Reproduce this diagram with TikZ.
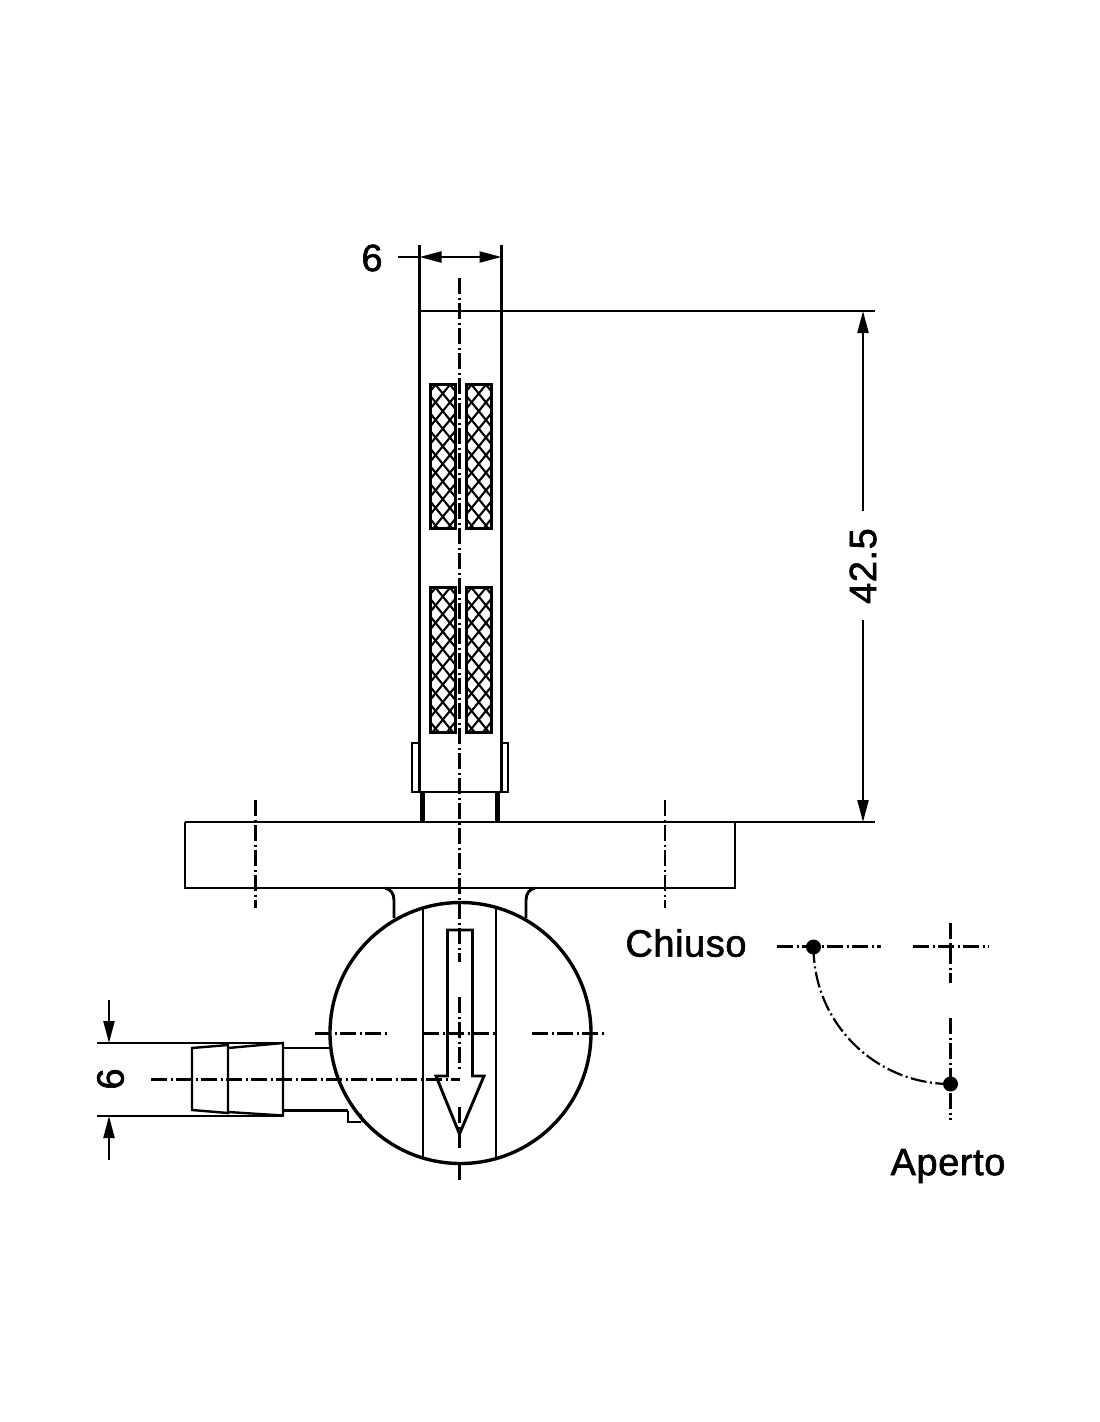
\documentclass[tikz,border=0pt]{standalone}
\usepackage{fontspec}
\setmainfont[FakeBold=1.6,LetterSpace=1.5]{Liberation Sans}
\usetikzlibrary{arrows.meta}
\tikzset{
  part/.style={line width=2.9pt,black},
  thin part/.style={line width=2.4pt,black},
  center/.style={line width=2.2pt,black,dash pattern=on 16pt off 3.5pt on 2pt off 3.5pt},
  dim/.style={line width=2.2pt,black},
  dimarrow/.style={dim,-{Stealth[length=22pt,width=11pt,inset=0pt]}},
  dimboth/.style={dim,{Stealth[length=22pt,width=11pt,inset=0pt]}-{Stealth[length=22pt,width=11pt,inset=0pt]}},
  lab/.style={font=\fontsize{38}{38}\selectfont,inner sep=0pt,text=black},
  hatchbox/.style={line width=3pt,black},
  hatchline/.style={line width=2.1pt,black},
  pin/.style={circle,fill=black,inner sep=0pt,minimum size=15pt}
}
\newcommand{\meshbox}[4]{%
  \begin{scope}
    \clip (#1,#2) rectangle (#3,#4);
    \foreach \k in {-3,...,12}{
      \draw[hatchline] (#1,#2-6+17.6*\k) -- (#3,#2+24+17.6*\k);
      \draw[hatchline] (#1,#2+24+17.6*\k) -- (#3,#2-6+17.6*\k);
    }
  \end{scope}
  \draw[hatchbox] (#1,#2) rectangle (#3,#4);
}
\begin{document}
\begin{tikzpicture}[x=1pt,y=-1pt]
\useasboundingbox (0,0) rectangle (1100,1422);
\fill[white] (0,0) rectangle (1100,1422);

% stem
\draw[part] (419.5,245) -- (419.5,743);
\draw[part] (501.5,245) -- (501.5,743);
\draw[part] (419.5,743) -- (419.5,792);
\draw[part] (501.5,743) -- (501.5,792);
\draw[thin part] (419.5,311) -- (875,311);

% mesh windows
\meshbox{430.5}{384.5}{455}{528.5}
\meshbox{466.5}{384.5}{491}{528.5}
\meshbox{430.5}{587.5}{455}{732.5}
\meshbox{466.5}{587.5}{491}{732.5}

% collar
\draw[thin part] (419.5,743) -- (412,743) -- (412,792) -- (508,792) -- (508,743) -- (501.5,743);
\draw[line width=4.5pt] (422.5,792) -- (422.5,822);
\draw[line width=4.5pt] (497.5,792) -- (497.5,822);

% flange
\draw[part] (185,822) -- (875,822);
\draw[part] (185,822) -- (185,888) -- (735,888) -- (735,822);

% neck fillets
\draw[part] (394,918) -- (394,900) .. controls (394,893) and (390,889) .. (385,888);
\draw[part] (526,918) -- (526,900) .. controls (526,893) and (530,889) .. (535,888);

% body
\draw[line width=3.4pt] (460.5,1033) circle (130.5);
\draw[thin part] (423,906) -- (423,1158);
\draw[thin part] (496,906) -- (496,1158);

% arrow
\draw[part,fill=white] (447.5,1076) -- (447.5,930) -- (472.5,930) -- (472.5,1076) -- (484,1076) -- (459.5,1134) -- (436,1076) -- cycle;

% centre lines
\draw[center] (459.5,278) -- (459.5,962);
\draw[center] (459.5,997) -- (459.5,1071);
\draw[center] (459.5,1107) -- (459.5,1149);
\draw[center] (459.5,1165) -- (459.5,1180);
\draw[center] (315,1033.5) -- (389,1033.5);
\draw[center] (423,1033.5) -- (496,1033.5);
\draw[center] (532,1033.5) -- (606,1033.5);
\draw[center] (151,1079.5) -- (460,1079.5);
\draw[center] (255.5,800) -- (255.5,908);
\draw[center] (665,800) -- (665,908);

% side fitting
\draw[thin part] (192,1048) -- (228,1045) -- (228,1113) -- (192,1110) -- cycle;
\draw[thin part] (228,1048) -- (283,1043) -- (283,1115.5) -- (228,1112);
\draw[thin part] (283,1048) -- (331,1048);
\draw[thin part] (283,1110.5) -- (348,1110.5);
\draw[thin part] (348,1110.5) -- (348,1122) -- (361,1122);
\draw[thin part] (360,1114) -- (363,1122);

% dimension 6 side
\draw[dim] (97,1043) -- (283,1043);
\draw[dim] (97,1116) -- (283,1116);
\coordinate (sa) at (109,1000);
\coordinate (sb) at (109,1043);
\coordinate (sc) at (109,1160);
\coordinate (sd) at (109,1116);
\draw[dimarrow] (sa) -- (sb);
\draw[dimarrow] (sc) -- (sd);
\node[lab,rotate=90] (six2) at (110.5,1079) {6};

% dimension 6 top
\coordinate (ta) at (419.5,257);
\coordinate (tb) at (501.5,257);
\coordinate (tc) at (398,257);
\draw[dimboth] (ta) -- (tb);
\draw[dim] (tc) -- (ta);
\node[lab] (six1) at (372,258) {6};

% dimension 42.5
\coordinate (da) at (863,311);
\coordinate (db) at (863,822);
\coordinate (dc) at (863,511);
\coordinate (dd) at (863,620);
\draw[dimarrow] (dc) -- (da);
\draw[dimarrow] (dd) -- (db);
\node[lab,rotate=90] (dim425) at (863,566) {42.5};

% lever diagram
\node[lab] (chiuso) at (686,943) {Chiuso};
\node[lab] (aperto) at (948,1166) {Aperto};
\node[pin] (pa) at (813.5,947) {};
\node[pin] (pb) at (950.5,1084) {};
\draw[center] (777,946.5) -- (881,946.5);
\draw[center] (913,946.5) -- (989,946.5);
\draw[center] (950.5,923) -- (950.5,983);
\draw[center] (950.5,1018) -- (950.5,1120);
\draw[center] (pa.center) .. controls (813.5,1022.6) and (874.9,1084) .. (pb.center);
\end{tikzpicture}
\end{document}
